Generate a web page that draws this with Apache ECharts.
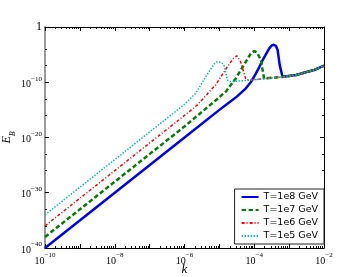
<!DOCTYPE html>
<html>
<head>
<meta charset="utf-8">
<script src="https://cdn.jsdelivr.net/npm/echarts@6/dist/echarts.min.js"></script>
<style>html,body{margin:0;padding:0;background:#fff}#c{width:360px;height:277px}</style>
</head>
<body>
<div id="c"></div>
<script>
// ---- data ----
const seriesNames = ['T=1e8 GeV', 'T=1e7 GeV', 'T=1e6 GeV', 'T=1e5 GeV'];

const kT8 = [1e-10, 1e-8, 1e-6, 1e-5, 1.86e-5, 3.16e-5, 5.75e-5, 7.94e-5, 1.10e-4, 1.38e-4, 1.74e-4, 2.69e-4, 3.16e-4, 3.63e-4, 4.17e-4, 4.68e-4, 5.37e-4, 6.46e-4, 1e-3, 1.58e-3, 3.16e-3, 5.25e-3, 1e-2];
const eT8 = [1e-40, 1e-30, 1e-20, 1e-15, 2.0e-14, 2.5e-13, 7.9e-12, 1.0e-10, 3.2e-9, 5.0e-8, 1.0e-6, 1.38e-4, 4.5e-4, 6.0e-4, 4.0e-4, 6.9e-5, 1.26e-7, 1.0e-9, 1.41e-9, 2.0e-9, 7.1e-9, 1.66e-8, 1e-7];

const kT7 = [1e-10, 1e-8, 1e-6, 7.76e-6, 1.58e-5, 2.95e-5, 5.75e-5, 7.94e-5, 1e-4, 1.20e-4, 1.55e-4, 1.91e-4, 3.16e-4, 6.3e-4, 1e-3, 1.58e-3, 3.16e-3, 5.25e-3, 1e-2];
const eT7 = [1e-38, 1e-28, 1e-18, 5.0e-14, 2.5e-12, 5.0e-10, 5.2e-7, 1.58e-5, 4.5e-5, 2.5e-5, 1.07e-6, 5.0e-10, 6.3e-10, 8.9e-10, 1.41e-9, 2.0e-9, 7.1e-9, 1.66e-8, 1e-7];

const kT6 = [1e-10, 1e-8, 1e-6, 2.34e-6, 7.76e-6, 1.70e-5, 2.51e-5, 3.16e-5, 3.55e-5, 4.07e-5, 5.75e-5, 7.94e-5, 2.0e-4, 6.3e-4, 1e-3, 1.58e-3, 3.16e-3, 5.25e-3, 1e-2];
const eT6 = [1e-36, 1e-26, 1e-16, 7.9e-15, 3.16e-11, 6.3e-8, 2.0e-6, 6.3e-6, 4.0e-6, 5.0e-7, 3.16e-10, 2.5e-10, 4.5e-10, 8.9e-10, 1.41e-9, 2.0e-9, 7.1e-9, 1.66e-8, 1e-7];

const kT5 = [1e-10, 1e-8, 1e-6, 2.09e-6, 5.0e-6, 7.08e-6, 8.7e-6, 1.12e-5, 1.35e-5, 1.51e-5, 1.70e-5, 2.0e-5, 4.0e-5, 7.9e-5, 2.0e-4, 6.3e-4, 1e-3, 1.58e-3, 3.16e-3, 5.25e-3, 1e-2];
const eT5 = [1e-34, 1e-24, 1e-14, 1e-12, 7.9e-9, 2.0e-7, 5.2e-7, 4.0e-7, 1.26e-7, 7.9e-9, 2.5e-10, 1.26e-10, 1.78e-10, 2.5e-10, 4.5e-10, 8.9e-10, 1.41e-9, 2.0e-9, 7.1e-9, 1.66e-8, 1e-7];

const xMajorTicks = [1e-10, 1e-9, 1e-8, 1e-7, 1e-6, 1e-5, 1e-4, 1e-3, 1e-2];
const xLabelTicks = [1e-10, 1e-8, 1e-6, 1e-4, 1e-2];
const xMinorMult = [2, 3, 4, 5, 6, 7, 8, 9];
const yLabelTicks = [1e-40, 1e-30, 1e-20, 1e-10, 1];
const yMinorTicks = [1e-4, 1e-7, 1e-13, 1e-16, 1e-23, 1e-26, 1e-33, 1e-36];

// ---- build ----
const xMinorTicks = [];
for (let i = 0; i < xMajorTicks.length - 1; i++) {
  xMinorMult.forEach(m => xMinorTicks.push(xMajorTicks[i] * m));
}
const zip = (a, b) => a.map((v, i) => [v, b[i]]);
function powLabel(v) {
  const e = Math.round(Math.log10(v));
  if (e === 0) return '{one|1}';
  return '{b|10}{e|\u2212' + String(-e) + '}';
}
const serif = '"Liberation Serif", "DejaVu Serif", serif';
const richLab = {
  b: {fontFamily: serif, fontSize: 10, color: '#000', verticalAlign: 'bottom', lineHeight: 14},
  e: {fontFamily: serif, fontSize: 7, color: '#000', verticalAlign: 'top', lineHeight: 14},
  one: {fontFamily: serif, fontSize: 12, color: '#000'}
};

function xAx(pos, ticks, len, showLine, labels) {
  return {
    type: 'log', logBase: 10, min: 1e-10, max: 1e-2, position: pos,
    axisLine: {show: showLine, onZero: false, lineStyle: {color: '#000', width: 1}},
    axisTick: {show: true, inside: true, length: len, customValues: ticks, lineStyle: {color: '#000', width: 1}},
    axisLabel: labels ? {show: true, customValues: xLabelTicks, formatter: powLabel, rich: richLab, margin: 4} : {show: false},
    splitLine: {show: false}, minorTick: {show: false}
  };
}
function yAx(pos, ticks, len, showLine, labels, lineColor, lineWidth) {
  return {
    type: 'log', logBase: 10, min: 1e-40, max: 1, position: pos,
    axisLine: {show: showLine, onZero: false, lineStyle: {color: lineColor || '#000', width: lineWidth || 1}},
    axisTick: {show: true, inside: true, length: len, customValues: ticks, lineStyle: {color: '#000', width: 1}},
    axisLabel: labels ? {show: true, customValues: yLabelTicks, formatter: powLabel, rich: richLab, margin: 3} : {show: false},
    splitLine: {show: false}, minorTick: {show: false}
  };
}

const xAxes = [
  Object.assign(xAx('bottom', xMajorTicks, 4, true, true), {
    name: 'k', nameLocation: 'middle', nameGap: 15, nameMoveOverlap: false,
    nameTextStyle: {fontFamily: serif, fontStyle: 'italic', fontSize: 13, color: '#000'}
  }),
  xAx('bottom', xMinorTicks, 2, false, false),
  xAx('top', xMajorTicks, 4, true, false),
  xAx('top', xMinorTicks, 2, false, false)
];
const yAxes = [
  Object.assign(yAx('left', yLabelTicks, 4, true, true, '#999', 2), {
    name: '{E|E}{B|B}', nameLocation: 'middle', nameGap: 28, nameRotate: 90, nameMoveOverlap: false,
    nameTextStyle: {
      rich: {
        E: {fontFamily: serif, fontStyle: 'italic', fontSize: 12, color: '#000', verticalAlign: 'top', lineHeight: 16},
        B: {fontFamily: serif, fontStyle: 'italic', fontSize: 8, color: '#000', verticalAlign: 'bottom', lineHeight: 16}
      }
    }
  }),
  yAx('left', yMinorTicks, 2, false, false),
  yAx('right', yLabelTicks, 4, true, false),
  yAx('right', yMinorTicks, 2, false, false)
];

function line(name, k, e, color, width, dash) {
  return {
    name: name, type: 'line', xAxisIndex: 0, yAxisIndex: 0,
    data: zip(k, e), showSymbol: false, symbol: 'none', smooth: false,
    lineStyle: {color: color, width: width, type: dash},
    itemStyle: {color: color},
    emphasis: {disabled: true}, animation: false, z: 3
  };
}

const chart = echarts.init(document.getElementById('c'), null, {renderer: 'canvas'});
chart.setOption({
  animation: false,
  backgroundColor: '#fff',
  grid: {left: 45, right: 36, top: 27, bottom: 29, containLabel: false, outerBoundsMode: 'none'},
  xAxis: xAxes,
  yAxis: yAxes,
  legend: {
    orient: 'vertical', right: 36, bottom: 33,
    backgroundColor: '#fff', borderColor: '#222', borderWidth: 1, borderRadius: 0,
    padding: [3, 6, 3, 6], itemGap: 3, itemWidth: 17, itemHeight: 10,
    itemStyle: {opacity: 0},
    textStyle: {fontFamily: '"DejaVu Sans", sans-serif', fontSize: 9.5, color: '#000'},
    data: seriesNames
  },
  series: [
    line(seriesNames[0], kT8, eT8, '#0000ff', 2.5, 'solid'),
    line(seriesNames[1], kT7, eT7, '#008000', 2.5, [4.5, 2.5]),
    line(seriesNames[2], kT6, eT6, '#ff0000', 1.5, [3, 2, 1, 2]),
    line(seriesNames[3], kT5, eT5, '#00bfbf', 1.5, [1.5, 1.5])
  ]
});
</script>
</body>
</html>
